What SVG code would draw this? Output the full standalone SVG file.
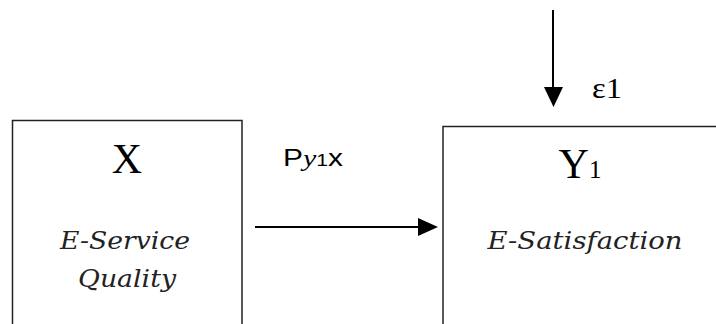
<svg xmlns="http://www.w3.org/2000/svg" width="716" height="324" viewBox="0 0 716 324">
<style>
.box{fill:none;stroke:#222;stroke-width:1.5}
.big{font-family:"Liberation Serif",serif;font-size:42px;fill:#000}
.lab{font-family:"DejaVu Serif",serif;font-style:italic;font-size:25px;fill:#222}
.sans{font-family:"Liberation Sans",sans-serif;font-size:24px;fill:#000}
.ser{font-family:"Liberation Serif",serif;font-size:30px;fill:#000}
.conn{stroke:#000;stroke-width:2;fill:none}
</style>
<rect width="716" height="324" fill="#fff"/>
<g id="node-x">
<path class="box" d="M12.5,330 V120.5 H242 V330"/>
<text class="big" x="127" y="173" text-anchor="middle">X</text>
<text class="lab" x="125" y="249" text-anchor="middle" textLength="130" lengthAdjust="spacingAndGlyphs">E-Service</text>
<text class="lab" x="127" y="287" text-anchor="middle" textLength="98" lengthAdjust="spacingAndGlyphs">Quality</text>
</g>
<g id="node-y1">
<path class="box" d="M443,330 V126.5 H720"/>
<text class="big" x="580" y="178" text-anchor="middle">Y<tspan font-size="25">1</tspan></text>
<text class="lab" x="585" y="249" text-anchor="middle" textLength="195" lengthAdjust="spacingAndGlyphs">E-Satisfaction</text>
</g>
<g id="connectors">
<line class="conn" x1="255" y1="227" x2="420" y2="227"/>
<path d="M418,218 L438,227 L418,236 Z" fill="#000"/>
<line class="conn" x1="553" y1="10" x2="553" y2="90"/>
<path d="M544,87 L563,87 L553.5,107 Z" fill="#000"/>
</g>
<text class="sans" x="283" y="166" textLength="60" lengthAdjust="spacingAndGlyphs">P<tspan font-family="Liberation Serif" font-style="italic">y</tspan><tspan font-size="17">1</tspan>x</text>
<text class="ser" x="592" y="98" textLength="30" lengthAdjust="spacingAndGlyphs">ε1</text>
</svg>
